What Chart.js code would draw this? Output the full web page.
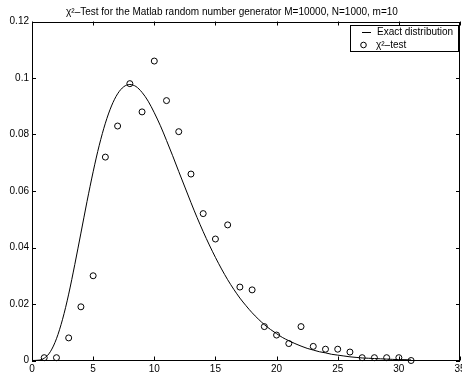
<!DOCTYPE html>
<html>
<head>
<meta charset="utf-8">
<script src="https://cdn.jsdelivr.net/npm/chart.js@4/dist/chart.umd.min.js"></script>
<style>
html,body{margin:0;padding:0;background:#fff;overflow:hidden;}
#wrap{width:462px;height:375px;overflow:hidden;}
canvas{display:block;}
</style>
</head>
<body>
<div id="wrap"><canvas id="c" width="474" height="375"></canvas></div>
<script>
const titleText = "χ²–Test for the Matlab random number generator M=10000, N=1000, m=10";
const legendLabels = ["Exact distribution", "χ²–test"];
const xTickValues = [0, 5, 10, 15, 20, 25, 30, 35];
const yTickValues = [0, 0.02, 0.04, 0.06, 0.08, 0.1, 0.12];

const testX = [1,2,3,4,5,6,7,8,9,10,11,12,13,14,15,16,17,18,19,20,21,22,23,24,25,26,27,28,29,30,31];
const testY = [0.001,0.001,0.008,0.019,0.030,0.072,0.083,0.098,0.088,0.106,0.092,0.081,0.066,0.052,0.043,0.048,0.026,0.025,0.012,0.009,0.006,0.012,0.005,0.004,0.004,0.003,0.001,0.001,0.001,0.001,0];

const curveX = [0,0.5,1,1.5,2,2.5,3,3.5,4,4.5,5,5.5,6,6.5,7,7.5,8,8.5,9,9.5,10,10.5,11,11.5,12,12.5,13,13.5,14,14.5,15,15.5,16,16.5,17,17.5,18,18.5,19,19.5,20,20.5,21,21.5,22,22.5,23,23.5,24,24.5,25,25.5,26,26.5,27,27.5,28,28.5,29,29.5,30,30.5,31];
const curveY = [0,0.0001,0.0008,0.0031,0.0077,0.0146,0.0235,0.0340,0.0451,0.0563,0.0668,0.0762,0.0840,0.0901,0.0944,0.0969,0.0977,0.0970,0.0949,0.0918,0.0877,0.0831,0.0779,0.0725,0.0669,0.0614,0.0559,0.0506,0.0456,0.0409,0.0365,0.0324,0.0286,0.0252,0.0221,0.0194,0.0169,0.0147,0.0127,0.0110,0.0095,0.0081,0.0070,0.0060,0.0051,0.0043,0.0037,0.0031,0.0027,0.0022,0.0019,0.0016,0.0013,0.0011,0.0009,0.0008,0.0007,0.0006,0.0005,0.0004,0.0003,0.0003,0.0002];

const FONT = "'Liberation Sans', Arial, Helvetica, sans-serif";

const matlabPlugin = {
  id: 'matlab',
  afterDraw(chart) {
    const ctx = chart.ctx;
    const a = chart.chartArea;
    const xs = chart.scales.x, ys = chart.scales.y;
    ctx.save();
    ctx.strokeStyle = '#000';
    ctx.lineWidth = 1;
    ctx.strokeRect(Math.round(a.left) + 0.5, Math.round(a.top) + 0.5, Math.round(a.right - a.left) - 1, Math.round(a.bottom - a.top) - 1);
    const tl = 4;
    ctx.beginPath();
    xs.ticks.forEach(t => {
      const p = Math.round(xs.getPixelForValue(t.value)) + 0.5;
      ctx.moveTo(p, a.bottom); ctx.lineTo(p, a.bottom - tl);
      ctx.moveTo(p, a.top); ctx.lineTo(p, a.top + tl);
    });
    ys.ticks.forEach(t => {
      const p = Math.round(ys.getPixelForValue(t.value)) + 0.5;
      ctx.moveTo(a.left, p); ctx.lineTo(a.left + tl, p);
      ctx.moveTo(a.right, p); ctx.lineTo(a.right - tl, p);
    });
    ctx.stroke();
    ctx.fillStyle = '#000';
    ctx.font = '10px ' + FONT;
    ctx.textAlign = 'center';
    ctx.textBaseline = 'middle';
    ctx.fillText(titleText, 232, 12);
    const lx = 350.5, ly = 25.5, lw = 108, lh = 26;
    ctx.fillStyle = '#fff';
    ctx.fillRect(lx, ly, lw, lh);
    ctx.strokeRect(lx, ly, lw, lh);
    ctx.beginPath();
    ctx.moveTo(362, 32.5); ctx.lineTo(371, 32.5);
    ctx.stroke();
    ctx.beginPath();
    ctx.arc(363.5, 45, 2.8, 0, Math.PI * 2);
    ctx.stroke();
    ctx.fillStyle = '#000';
    ctx.textAlign = 'left';
    ctx.fillText(legendLabels[0], 377, 32);
    ctx.fillText(legendLabels[1], 376, 45.5);
    ctx.restore();
  }
};

new Chart(document.getElementById('c'), {
  type: 'scatter',
  data: {
    datasets: [
      {
        label: legendLabels[0],
        data: curveX.map((x, i) => ({x: x, y: curveY[i]})),
        showLine: true,
        borderColor: '#000',
        borderWidth: 1,
        pointRadius: 0,
        cubicInterpolationMode: 'monotone',
        fill: false
      },
      {
        label: legendLabels[1],
        data: testX.map((x, i) => ({x: x, y: testY[i]})),
        showLine: false,
        pointStyle: 'circle',
        pointRadius: 3,
        pointBorderWidth: 1,
        borderColor: '#000',
        backgroundColor: 'rgba(0,0,0,0)',
        clip: false
      }
    ]
  },
  options: {
    responsive: false,
    animation: false,
    events: [],
    layout: { padding: { left: 0, top: 21.5, right: 14, bottom: 0 } },
    plugins: { legend: { display: false }, title: { display: false }, tooltip: { enabled: false } },
    scales: {
      x: {
        type: 'linear', min: 0, max: 35,
        afterBuildTicks: s => { s.ticks = xTickValues.map(v => ({value: v})); },
        afterFit: s => { s.height = 14.5; },
        grid: { display: false, drawTicks: false },
        border: { display: false },
        ticks: { padding: 3, color: '#000', font: { family: FONT, size: 10 }, maxRotation: 0, autoSkip: false,
                 callback: v => String(Number(v.toFixed(2))) }
      },
      y: {
        type: 'linear', min: 0, max: 0.12,
        afterBuildTicks: s => { s.ticks = yTickValues.map(v => ({value: v})); },
        afterFit: s => { s.width = 32; s.paddingTop = 0; s.paddingBottom = 0; },
        grid: { display: false, drawTicks: false },
        border: { display: false },
        ticks: { padding: 3, color: '#000', font: { family: FONT, size: 10 }, autoSkip: false,
                 callback: v => String(Number(v.toFixed(2))) }
      }
    }
  },
  plugins: [matlabPlugin]
});
</script>
</body>
</html>
